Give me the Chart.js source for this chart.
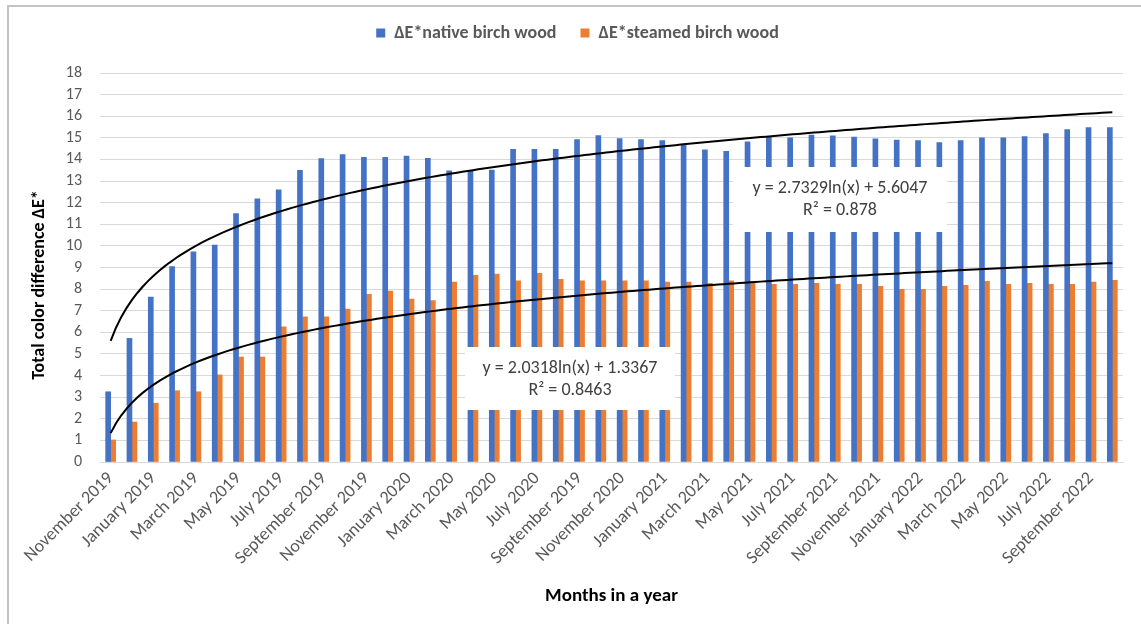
<!DOCTYPE html>
<html>
<head>
<meta charset="utf-8">
<script src="https://cdn.jsdelivr.net/npm/chart.js@4/dist/chart.umd.min.js"></script>
<style>
  html, body { margin: 0; padding: 0; background: #fff; }
  #wrap { width: 1141px; height: 624px; }
</style>
</head>
<body>
<div id="wrap"><canvas id="c" width="1141" height="624"></canvas></div>
<script>
// Monthly measurements of total colour difference
const categories = [
  'November 2019', 'December 2018', 'January 2019', 'February 2019', 'March 2019', 'April 2019',
  'May 2019', 'June 2019', 'July 2019', 'August 2019', 'September 2019', 'October 2019',
  'November 2019', 'December 2019', 'January 2020', 'February 2020', 'March 2020', 'April 2020',
  'May 2020', 'June 2020', 'July 2020', 'August 2020', 'September 2019', 'October 2020',
  'November 2020', 'December 2020', 'January 2021', 'February 2021', 'March 2021', 'April 2021',
  'May 2021', 'June 2021', 'July 2021', 'August 2021', 'September 2021', 'October 2021',
  'November 2021', 'December 2021', 'January 2022', 'February 2022', 'March 2022', 'April 2022',
  'May 2022', 'June 2022', 'July 2022', 'August 2022', 'September 2022', 'October 2022'
];

const nativeBirch = [
  3.25, 5.72, 7.63, 9.04, 9.72, 10.04, 11.49, 12.18, 12.59, 13.50, 14.04, 14.22,
  14.10, 14.10, 14.15, 14.05, 13.47, 13.47, 13.51, 14.47, 14.47, 14.47, 14.92, 15.10,
  14.96, 14.92, 14.87, 14.65, 14.44, 14.38, 14.82, 15.02, 15.00, 15.13, 15.09, 15.04,
  14.95, 14.90, 14.87, 14.78, 14.87, 15.00, 15.00, 15.06, 15.20, 15.38, 15.47, 15.47
];

const steamedBirch = [
  1.02, 1.85, 2.72, 3.30, 3.25, 4.03, 4.86, 4.86, 6.26, 6.72, 6.72, 7.08,
  7.76, 7.91, 7.54, 7.47, 8.33, 8.64, 8.69, 8.38, 8.73, 8.45, 8.38, 8.38,
  8.38, 8.38, 8.33, 8.33, 8.27, 8.38, 8.27, 8.22, 8.22, 8.27, 8.22, 8.22,
  8.13, 7.99, 7.99, 8.13, 8.18, 8.36, 8.22, 8.27, 8.22, 8.22, 8.32, 8.41
];

// Logarithmic trend fits: y = a*ln(x) + b, x = 1..n
const nativeFit = { a: 2.7329, b: 5.6047, r2: '0.878' };
const steamedFit = { a: 2.0318, b: 1.3367, r2: '0.8463' };

const yTicks = { min: 0, max: 18, step: 1 };

const FONT = 'Carlito, Lato, sans-serif';
const GREY = '#595959';

// trend curve traced along the month index (0-based index i -> x = i + 1)
const fitCurve = fit => {
  const pts = [];
  for (let k = 0; k <= (categories.length - 1) * 4; k++) {
    const i = k / 4;
    pts.push({ x: i, y: fit.a * Math.log(i + 1) + fit.b });
  }
  return pts;
};
const fmtFit = fit => 'y = ' + fit.a.toFixed(4) + 'ln(x) + ' + fit.b.toFixed(4);

// Boxes holding the trend equations (pixel rectangles)
const eqBoxes = [
  { fit: steamedFit, x: 465, y: 347, w: 210, h: 63 },
  { fit: nativeFit,  x: 733, y: 167, w: 214, h: 65 }
];

const frame = {
  id: 'frame',
  beforeDraw(chart) {
    const ctx = chart.ctx;
    ctx.save();
    ctx.fillStyle = '#fff';
    ctx.fillRect(0, 0, chart.width, chart.height);
    ctx.strokeStyle = '#C4C4C4';
    ctx.lineWidth = 2;
    ctx.beginPath();
    ctx.moveTo(8, chart.height + 2);
    ctx.lineTo(8, 6);
    ctx.lineTo(chart.width + 2, 6);
    ctx.stroke();
    ctx.restore();
  }
};

const legendSpacer = {
  id: 'legendSpacer',
  beforeLayout(chart) {
    const lg = chart.legend;
    if (lg && !lg._spaced) {
      const fit = lg.fit;
      lg.fit = function () { fit.call(this); this.height = 73; };
      lg._spaced = true;
    }
  },
  afterLayout(chart) {
    const lg = chart.legend;
    if (lg) { lg.left += 12; lg.right += 12; }
  }
};

const annotations = {
  id: 'annotations',
  afterDatasetsDraw(chart) {
    const ctx = chart.ctx;
    ctx.save();
    eqBoxes.forEach(b => {
      ctx.fillStyle = '#fff';
      ctx.fillRect(b.x, b.y, b.w, b.h);
      ctx.fillStyle = '#404040';
      ctx.font = '18px ' + FONT;
      ctx.textAlign = 'center';
      ctx.textBaseline = 'middle';
      const cx = b.x + b.w / 2;
      ctx.fillText(fmtFit(b.fit), cx, b.y + 21);
      ctx.fillText('R\u00B2 = ' + b.fit.r2, cx, b.y + 43);
    });
    // vertical axis title
    ctx.translate(39, 285);
    ctx.rotate(-Math.PI / 2);
    ctx.fillStyle = '#000';
    ctx.textAlign = 'center';
    ctx.textBaseline = 'middle';
    ctx.font = 'bold 18px ' + FONT;
    ctx.fillText('Total color difference \u0394E*', 0, 0);
    ctx.restore();
  }
};

new Chart(document.getElementById('c'), {
  data: {
    labels: categories,
    datasets: [
      {
        type: 'line', label: 'trend native', data: fitCurve(nativeFit), xAxisID: 'xt',
        borderColor: '#000', borderWidth: 2, pointRadius: 0, tension: 0, order: 0
      },
      {
        type: 'line', label: 'trend steamed', data: fitCurve(steamedFit), xAxisID: 'xt',
        borderColor: '#000', borderWidth: 2, pointRadius: 0, tension: 0, order: 0
      },
      {
        type: 'bar', label: '\u0394E*native birch wood', data: nativeBirch, xAxisID: 'x',
        backgroundColor: '#4472C4', barThickness: 5, order: 1
      },
      {
        type: 'bar', label: '\u0394E*steamed birch wood', data: steamedBirch, xAxisID: 'x',
        backgroundColor: '#ED7D31', barThickness: 5, order: 1
      }
    ]
  },
  options: {
    responsive: false,
    animation: false,
    layout: { padding: { left: 8, right: 18, top: 0, bottom: 0 } },
    plugins: {
      legend: {
        position: 'top',
        labels: {
          filter: item => item.text.startsWith('\u0394E'),
          boxWidth: 9, boxHeight: 9, padding: 24,
          color: GREY,
          font: { family: FONT, size: 18, weight: 'bold' }
        }
      },
      tooltip: { enabled: false }
    },
    scales: {
      x: {
        offset: true,
        grid: { display: false, drawTicks: false },
        border: { color: '#D9D9D9', width: 1 },
        ticks: {
          autoSkip: false, maxRotation: 45, minRotation: 45, padding: 6,
          color: GREY, font: { family: FONT, size: 18 },
          callback: (v, i) => (i % 2 === 0 ? categories[i] : '')
        },
        title: {
          display: true, text: 'Months in a year', color: '#000',
          font: { family: FONT, size: 19, weight: 'bold' },
          padding: { top: 0, bottom: 16 }
        },
        afterFit(s) { s.height = 162; }
      },
      xt: {
        type: 'linear', display: false,
        min: -0.5, max: categories.length - 0.5
      },
      y: {
        min: yTicks.min, max: yTicks.max,
        grid: { color: '#D9D9D9', lineWidth: 1, drawTicks: false },
        border: { display: false },
        ticks: {
          stepSize: yTicks.step, autoSkip: false, padding: 18,
          color: GREY, font: { family: FONT, size: 16 }
        },
        afterFit(s) { s.width = 92; }
      }
    }
  },
  plugins: [frame, legendSpacer, annotations]
});
</script>
</body>
</html>
